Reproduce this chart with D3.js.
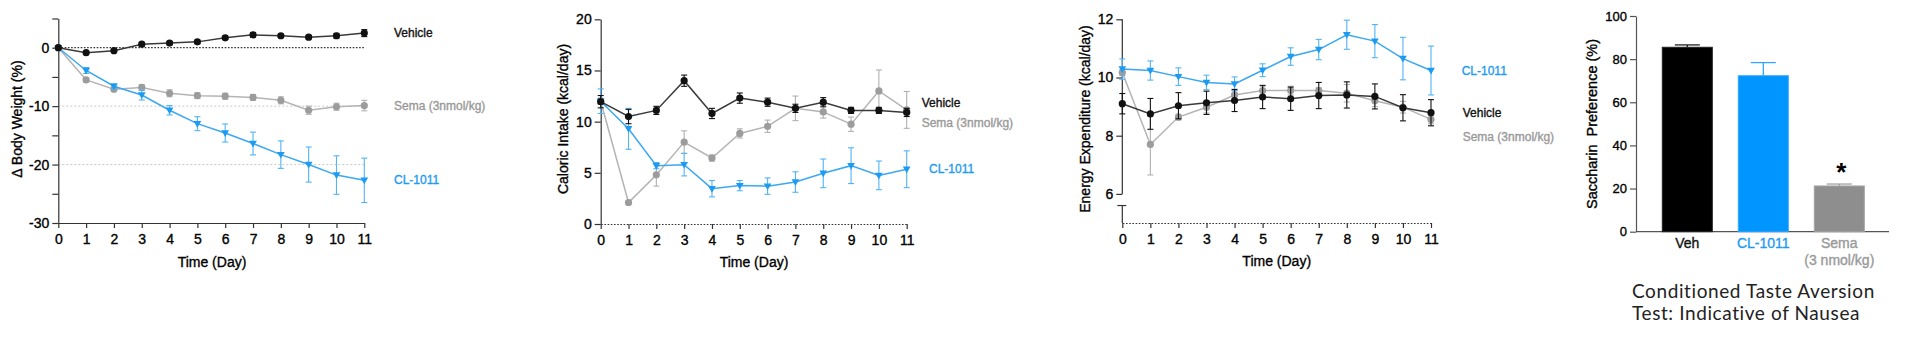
<!DOCTYPE html>
<html>
<head>
<meta charset="utf-8">
<script src="https://cdn.jsdelivr.net/npm/d3@7"></script>
<style>
  body { margin: 0; background: #fff; }
  svg { display: block; font-family: "Liberation Sans", Arial, sans-serif; }
  .heavy { paint-order: stroke; stroke-width: 0.35px; }
</style>
</head>
<body>
<svg id="chart" width="1920" height="337"></svg>
<script>
const days = [0, 1, 2, 3, 4, 5, 6, 7, 8, 9, 10, 11];

// Δ body weight (%)
const bwVehicle = [0, -0.85, -0.5, 0.6, 0.8, 1.0, 1.7, 2.2, 2.05, 1.8, 2.05, 2.5];
const bwVehicleErr = [0, 0.2, 0.2, 0.3, 0.3, 0.3, 0.3, 0.4, 0.3, 0.3, 0.4, 0.6];
const bwSema = [0, -5.5, -7.1, -6.8, -7.8, -8.2, -8.3, -8.5, -9.0, -10.7, -10.1, -9.9];
const bwSemaErr = [0, 0.4, 0.4, 0.5, 0.6, 0.5, 0.5, 0.5, 0.6, 0.7, 0.6, 0.9];
const bwCL = [0, -3.9, -6.6, -8.1, -10.7, -13.0, -14.6, -16.4, -18.3, -20.0, -21.8, -22.7];
const bwCLErr = [0, 0.5, 0.4, 0.85, 0.8, 1.2, 1.55, 1.95, 2.35, 3.0, 3.3, 3.8];

// caloric intake (kcal/day)
const ciVehicle = [11.95, 10.5, 11.1, 14.0, 10.8, 12.3, 11.9, 11.3, 11.9, 11.1, 11.1, 10.9];
const ciVehicleErr = [0.6, 0.7, 0.4, 0.55, 0.5, 0.5, 0.4, 0.4, 0.45, 0.3, 0.3, 0.4];
const ciSema = [12.0, 2.1, 4.8, 8.0, 6.45, 8.85, 9.55, 11.3, 10.95, 9.75, 13.0, 11.15];
const ciSemaErr = [0.3, 0.2, 1.1, 1.1, 0.3, 0.45, 0.6, 1.2, 0.6, 0.7, 2.05, 1.8];
const ciCL = [12.0, 9.3, 5.7, 5.8, 3.45, 3.75, 3.7, 4.1, 4.95, 5.7, 4.75, 5.35];
const ciCLErr = [1.2, 2.0, 0.3, 1.1, 0.8, 0.5, 0.8, 1.0, 1.4, 1.75, 1.4, 1.8];

// energy expenditure (kcal/day)
const eeVehicle = [9.1, 8.75, 9.03, 9.13, 9.21, 9.33, 9.27, 9.38, 9.4, 9.35, 8.96, 8.79];
const eeVehicleErr = [0.35, 0.53, 0.45, 0.4, 0.38, 0.4, 0.4, 0.45, 0.45, 0.43, 0.45, 0.45];
const eeSema = [10.17, 7.7, 8.64, 8.98, 9.4, 9.55, 9.55, 9.55, 9.46, 9.2, 8.98, 8.56];
const eeSemaErr = [0.1, 1.05, 0.1, 0.2, 0.15, 0.15, 0.15, 0.1, 0.3, 0.2, 0.2, 0.15];
const eeCL = [10.29, 10.24, 10.03, 9.83, 9.78, 10.25, 10.72, 10.96, 11.47, 11.25, 10.65, 10.24];
const eeCLErr = [0.35, 0.33, 0.3, 0.25, 0.24, 0.22, 0.3, 0.35, 0.5, 0.57, 0.73, 0.84];

// conditioned taste aversion
const ctaGroups = ['Veh', 'CL-1011', 'Sema'];
const ctaSubLabels = ['', '', '(3 nmol/kg)'];
const ctaValues = [85.5, 72.3, 21.2];
const ctaErrors = [1.1, 6.1, 0.9];
const ctaTicks = [0, 20, 40, 60, 80, 100];

const BLACK = '#111';
const GRAY = '#999';
const BLUE = '#1d9bf0';
const AXIS = '#333';

const svg = d3.select('#chart');

// text in the source is a little heavier than plain Liberation Sans
function heavy(sel, color) {
  return sel.attr('class', 'heavy').attr('fill', color).attr('stroke', color);
}

function styleAxis(sel, dotted) {
  sel.attr('font-size', 14).attr('font-family', null);
  sel.selectAll('text').call(t => heavy(t, '#000'));
  sel.selectAll('line').attr('stroke', AXIS).attr('stroke-width', 1.2);
  sel.select('.domain').attr('stroke', AXIS).attr('stroke-width', 1.2)
    .attr('stroke-dasharray', dotted ? '1.6,1.6' : null);
}

function drawSeries(g, x, y, s) {
  const pts = days.map((d, i) => ({d, v: s.values[i], e: s.errors[i]}));
  const line = d3.line().x(p => x(p.d)).y(p => y(p.v));

  const eb = g.append('g').attr('stroke', s.errColor || s.color).attr('stroke-width', 1.1);
  for (const p of pts) {
    if (!p.e) continue;
    const cx = x(p.d);
    eb.append('line').attr('x1', cx).attr('x2', cx).attr('y1', y(p.v - p.e)).attr('y2', y(p.v + p.e));
    eb.append('line').attr('x1', cx - 3).attr('x2', cx + 3).attr('y1', y(p.v - p.e)).attr('y2', y(p.v - p.e));
    eb.append('line').attr('x1', cx - 3).attr('x2', cx + 3).attr('y1', y(p.v + p.e)).attr('y2', y(p.v + p.e));
  }

  g.append('path').datum(pts).attr('d', line)
    .attr('fill', 'none').attr('stroke', s.lineColor || s.color).attr('stroke-width', 1.5);

  if (s.shape === 'triangle') {
    const sym = d3.symbol(d3.symbolTriangle, 26);
    g.append('g').selectAll('path').data(pts).join('path')
      .attr('d', sym)
      .attr('transform', p => `translate(${x(p.d)},${y(p.v) - 0.5}) rotate(180)`)
      .attr('fill', s.color);
  } else {
    g.append('g').selectAll('circle').data(pts).join('circle')
      .attr('cx', p => x(p.d)).attr('cy', p => y(p.v)).attr('r', 3.6)
      .attr('fill', s.color);
  }
}

function drawLinePanel(p) {
  const g = svg.append('g');
  const x = d3.scaleLinear().domain([0, 11]).range(p.xRange);
  const y = d3.scaleLinear().domain(p.yDomain).range(p.yRange);

  for (const v of p.grid || []) {
    g.append('line').attr('x1', x(0)).attr('x2', x(11)).attr('y1', y(v)).attr('y2', y(v))
      .attr('stroke', '#c9c9c9').attr('stroke-width', 1).attr('stroke-dasharray', '2,2');
  }
  if (p.zeroLine) {
    g.append('line').attr('x1', x(0)).attr('x2', x(11)).attr('y1', y(0)).attr('y2', y(0))
      .attr('stroke', AXIS).attr('stroke-width', 1.2).attr('stroke-dasharray', '1.6,1.6');
  }

  // x axis
  g.append('g').attr('transform', `translate(0,${y(p.yDomain[0])})`)
    .call(d3.axisBottom(x).tickValues(days).tickSize(5).tickPadding(6).tickSizeOuter(0))
    .call(sel => styleAxis(sel, p.dottedX));

  // y axis
  const yAxis = g.append('g').attr('transform', `translate(${x(0)},0)`)
    .call(d3.axisLeft(y).tickValues(p.yTicks).tickSize(6).tickPadding(3).tickSizeOuter(0)
      .tickFormat(v => p.yLabels.includes(v) ? v : ''))
    .call(sel => styleAxis(sel, false));

  if (p.yBreak) {
    // broken axis: main part down to the lowest label, short stub down to the x axis
    yAxis.select('.domain').remove();
    const [b0, b1] = p.yBreak;
    yAxis.append('line').attr('x1', 0).attr('x2', 0).attr('y1', y(p.yDomain[1])).attr('y2', y(b1))
      .attr('stroke', AXIS).attr('stroke-width', 1.2);
    yAxis.append('line').attr('x1', 0).attr('x2', 0).attr('y1', y(b0)).attr('y2', y(p.yDomain[0]))
      .attr('stroke', AXIS).attr('stroke-width', 1.2);
    yAxis.append('line').attr('x1', -5).attr('x2', 4).attr('y1', y(b0)).attr('y2', y(b0))
      .attr('stroke', AXIS).attr('stroke-width', 1.2);
  }

  for (const s of p.series) drawSeries(g, x, y, s);

  // axis titles
  g.append('text').attr('x', p.xTitle[0]).attr('y', p.xTitle[1])
    .attr('text-anchor', 'middle').attr('font-size', 14).text('Time (Day)')
    .call(t => heavy(t, '#000'));
  g.append('text')
    .attr('transform', `translate(${p.yTitle[0]},${p.yTitle[1]}) rotate(-90)`)
    .attr('text-anchor', 'middle').attr('dy', '0.35em').attr('font-size', 14)
    .text(p.yTitle[2])
    .call(t => heavy(t, '#000'));

  for (const l of p.legend) {
    g.append('text').attr('x', l[0]).attr('y', l[1]).attr('dy', '0.35em')
      .attr('font-size', 12).text(l[2])
      .call(t => heavy(t, l[3]));
  }
}

drawLinePanel({
  xRange: [58.3, 364.3],
  yDomain: [-30, 5],
  yRange: [223, 18.5],
  yTicks: [-30, -25, -20, -15, -10, -5, 0, 5],
  yLabels: [-30, -20, -10, 0],
  grid: [-10, -20],
  zeroLine: true,
  dottedX: false,
  xTitle: [212, 267],
  yTitle: [17.5, 119, 'Δ Body Weight (%)'],
  series: [
    {values: bwSema, errors: bwSemaErr, color: '#9c9c9c', lineColor: '#b4b4b4', errColor: '#b0b0b0', shape: 'circle'},
    {values: bwCL, errors: bwCLErr, color: BLUE, lineColor: '#3aa8f2', errColor: '#52b3f5', shape: 'triangle'},
    {values: bwVehicle, errors: bwVehicleErr, color: BLACK, lineColor: '#3a3a3a', shape: 'circle'}
  ],
  legend: [
    [394, 33, 'Vehicle', BLACK],
    [394, 106, 'Sema (3nmol/kg)', GRAY],
    [394, 180, 'CL-1011', BLUE]
  ]
});

drawLinePanel({
  xRange: [600.7, 906.7],
  yDomain: [0, 20],
  yRange: [224, 19.3],
  yTicks: [0, 5, 10, 15, 20],
  yLabels: [0, 5, 10, 15, 20],
  dottedX: true,
  xTitle: [754, 267],
  yTitle: [563.5, 119, 'Caloric Intake (kcal/day)'],
  series: [
    {values: ciSema, errors: ciSemaErr, color: '#9c9c9c', lineColor: '#b4b4b4', errColor: '#b0b0b0', shape: 'circle'},
    {values: ciCL, errors: ciCLErr, color: BLUE, lineColor: '#3aa8f2', errColor: '#52b3f5', shape: 'triangle'},
    {values: ciVehicle, errors: ciVehicleErr, color: BLACK, lineColor: '#3a3a3a', shape: 'circle'}
  ],
  legend: [
    [921.7, 103, 'Vehicle', BLACK],
    [921.7, 123, 'Sema (3nmol/kg)', GRAY],
    [929, 169, 'CL-1011', BLUE]
  ]
});

drawLinePanel({
  xRange: [1122.3, 1431],
  yDomain: [5, 12],
  yRange: [223, 19.3],
  yTicks: [6, 8, 10, 12],
  yLabels: [6, 8, 10, 12],
  yBreak: [5.6, 6],
  dottedX: true,
  xTitle: [1276.7, 266],
  yTitle: [1085, 119, 'Energy Expenditure (kcal/day)'],
  series: [
    {values: eeSema, errors: eeSemaErr, color: '#9c9c9c', lineColor: '#b4b4b4', errColor: '#b0b0b0', shape: 'circle'},
    {values: eeCL, errors: eeCLErr, color: BLUE, lineColor: '#3aa8f2', errColor: '#52b3f5', shape: 'triangle'},
    {values: eeVehicle, errors: eeVehicleErr, color: BLACK, lineColor: '#3a3a3a', shape: 'circle'}
  ],
  legend: [
    [1461.7, 70.7, 'CL-1011', BLUE],
    [1462.7, 112.7, 'Vehicle', BLACK],
    [1462.7, 137, 'Sema (3nmol/kg)', GRAY]
  ]
});

// ---- bar chart: saccharin preference ----
const barFill = ['#000', '#0095ff', '#8e8e8e'];
const barEdge = ['#222', '#33a6ff', '#a3a3a3'];
const barText = [BLACK, BLUE, GRAY];

const bg = svg.append('g');
const yb = d3.scaleLinear().domain([0, 100]).range([231.7, 16]);
const xb = d3.scaleBand().domain(ctaGroups).range([1649.3, 1877.3]).paddingInner(0.342).paddingOuter(0.171);

bg.append('g').attr('transform', 'translate(1636,0)')
  .call(d3.axisLeft(yb).tickValues(ctaTicks).tickSize(6).tickPadding(3).tickSizeOuter(0))
  .call(sel => {
    styleAxis(sel, false);
    sel.attr('font-size', 13);
    sel.selectAll('line').attr('stroke', '#555');
    sel.select('.domain').attr('stroke', '#555');
  });

bg.append('line').attr('x1', 1636).attr('x2', 1889).attr('y1', yb(0)).attr('y2', yb(0))
  .attr('stroke', '#555').attr('stroke-width', 1.3);

ctaGroups.forEach((grp, i) => {
  const x0 = xb(grp), w = xb.bandwidth(), cx = x0 + w / 2;
  const v = ctaValues[i], e = ctaErrors[i];
  bg.append('line').attr('x1', cx).attr('x2', cx).attr('y1', yb(v)).attr('y2', yb(v + e))
    .attr('stroke', barEdge[i]).attr('stroke-width', 1.3);
  bg.append('line').attr('x1', cx - 12.5).attr('x2', cx + 12.5).attr('y1', yb(v + e)).attr('y2', yb(v + e))
    .attr('stroke', barEdge[i]).attr('stroke-width', 1.3);
  bg.append('rect').attr('x', x0).attr('y', yb(v)).attr('width', w).attr('height', yb(0) - yb(v))
    .attr('fill', barFill[i]).attr('stroke', barEdge[i]).attr('stroke-width', 1);
  bg.append('text').attr('x', cx).attr('y', 248).attr('text-anchor', 'middle')
    .attr('font-size', 14).text(grp)
    .call(t => heavy(t, barText[i]));
  if (ctaSubLabels[i]) {
    bg.append('text').attr('x', cx).attr('y', 265).attr('text-anchor', 'middle')
      .attr('font-size', 14).text(ctaSubLabels[i])
      .call(t => heavy(t, barText[i]));
  }
});

// significance marker over the Sema bar
bg.append('text').attr('x', xb('Sema') + xb.bandwidth() / 2 + 2).attr('y', 181)
  .attr('text-anchor', 'middle').attr('font-size', 26).attr('font-weight', 'bold').text('*');

bg.append('text')
  .attr('transform', 'translate(1591.5,124) rotate(-90)')
  .attr('text-anchor', 'middle').attr('dy', '0.35em').attr('font-size', 14.5)
  .style('white-space', 'pre')
  .text('Saccharin  Preference (%)')
  .call(t => heavy(t, '#000'));

const caption = ['Conditioned Taste Aversion', 'Test: Indicative of Nausea'];
caption.forEach((line, i) => {
  bg.append('text').attr('x', 1632).attr('y', 298 + i * 22)
    .attr('font-family', 'Lato, "Noto Sans", sans-serif').attr('font-size', 19)
    .attr('letter-spacing', 0.6).attr('fill', '#222')
    .text(line);
});
</script>
</body>
</html>
